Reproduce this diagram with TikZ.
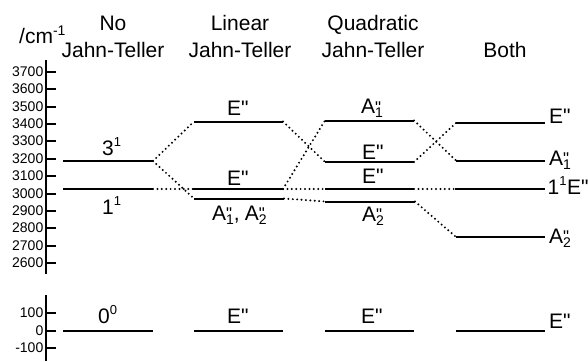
\documentclass[tikz,border=0pt]{standalone}
\usepackage{fontspec}
\setmainfont{Liberation Sans}
\newfontfamily\plainf{Liberation Sans}
\newcommand{\dbl}{{\plainf"}}
\newcommand{\AAs}[1]{A\rlap{\raisebox{0.5pt}{\fontsize{17}{17}\selectfont\dbl}}\raisebox{-4pt}{\fontsize{14}{14}\selectfont #1}}
\newcommand{\spr}[1]{\raisebox{8.5pt}{\fontsize{13}{13}\selectfont #1}}
\tikzset{
  levelline/.style={line width=2pt,black},
  conn/.style={line width=2.2pt,line cap=round,dash pattern=on 0pt off 4.4pt,black},
  lab/.style={font=\fontsize{21}{24}\selectfont,inner sep=0pt,anchor=base west},
  head/.style={font=\fontsize{21}{24}\selectfont,inner sep=0pt,anchor=base},
  tick/.style={font=\fontsize{14}{16}\selectfont,inner sep=0pt,anchor=base east},
  axisline/.style={line width=2pt,black}
}
\newcommand{\lvl}[4]{%
  \coordinate (#1l) at (#2,#4);\coordinate (#1r) at (#3,#4);
  \draw[levelline] (#1l) -- (#1r);}
\begin{document}
\begin{tikzpicture}[x=1pt,y=-1pt]
\useasboundingbox (0,0) rectangle (588,361);
% axis
\draw[axisline] (46,60) -- (46,274);
\draw[axisline] (46,295) -- (46,361);
\foreach \v/\yy in {3700/71.5,3600/89,3500/106.5,3400/124,3300/141,3200/159,3100/176,3000/193.5,2900/211,2800/228,2700/246,2600/263,100/313,0/331,-100/348}{
  \draw[axisline] (46,\yy) -- (56,\yy);
  \node[tick] (t\v) at (43.5,\yy+4.5) {\v};
}
% headers
\node[lab] (unit) at (19,44) {/cm\raisebox{8pt}{\fontsize{14}{14}\selectfont -1}};
\node[head] (h1a) at (113,31) {No};
\node[head] (h1b) at (113,57) {Jahn-Teller};
\node[head] (h2a) at (240,31) {Linear};
\node[head] (h2b) at (240,57) {Jahn-Teller};
\node[head] (h3a) at (373,31) {Quadratic};
\node[head] (h3b) at (373,57) {Jahn-Teller};
\node[head] (h4) at (505,57) {Both};
% levels
\lvl{a}{63}{153}{161}
\lvl{b}{63}{153}{189}
\lvl{g1}{63}{153}{330.5}
\lvl{c}{194}{283}{121.5}
\lvl{d}{193}{283}{189}
\lvl{e}{194}{284}{198.5}
\lvl{g2}{194}{283}{330.5}
\lvl{f}{325}{414}{120.5}
\lvl{h}{325}{414}{162}
\lvl{i}{325}{414}{189}
\lvl{j}{325}{415}{201.5}
\lvl{g3}{325}{414}{330.5}
\lvl{k}{456}{545}{123}
\lvl{m}{456}{545}{160.5}
\lvl{n}{455}{545}{189}
\lvl{o}{456}{545}{237}
\lvl{g4}{456}{545}{330.5}
% connectors
\draw[conn] (ar) -- (cl);
\draw[conn] (ar) -- (el);
\draw[conn] (br) -- (dl);
\draw[conn] (cr) -- (hl);
\draw[conn] (dr) -- (fl);
\draw[conn] (dr) -- (il);
\draw[conn] (er) -- (jl);
\draw[conn] (fr) -- (ml);
\draw[conn] (hr) -- (kl);
\draw[conn] (ir) -- (nl);
\draw[conn] (jr) -- (ol);
% labels
\node[lab] (l31) at (102,155) {3\spr{1}};
\node[lab] (l11) at (102,214) {1\spr{1}};
\node[lab] (l00) at (98,323) {0\spr{0}};
\node[lab] (lc) at (227,115.5) {E\dbl};
\node[lab] (ld) at (227,185) {E\dbl};
\node[lab] (le) at (212,220) {\AAs{1},\hspace{5pt}\AAs{2}};
\node[lab] (lg2) at (227,323) {E\dbl};
\node[lab] (lf) at (361,113.5) {\AAs{1}};
\node[lab] (lh) at (362,159) {E\dbl};
\node[lab] (li) at (362,183) {E\dbl};
\node[lab] (lj) at (362,221) {\AAs{2}};
\node[lab] (lg3) at (361,323) {E\dbl};
\node[lab] (lk) at (549,123) {E\dbl};
\node[lab] (lm) at (549,165) {\AAs{1}};
\node[lab] (ln) at (547.5,194) {1\spr{1}};
\node[lab] (ln2) at (567,194) {E\dbl};
\node[lab] (lo) at (549,243) {\AAs{2}};
\node[lab] (lg4) at (549,328) {E\dbl};
\end{tikzpicture}
\end{document}
